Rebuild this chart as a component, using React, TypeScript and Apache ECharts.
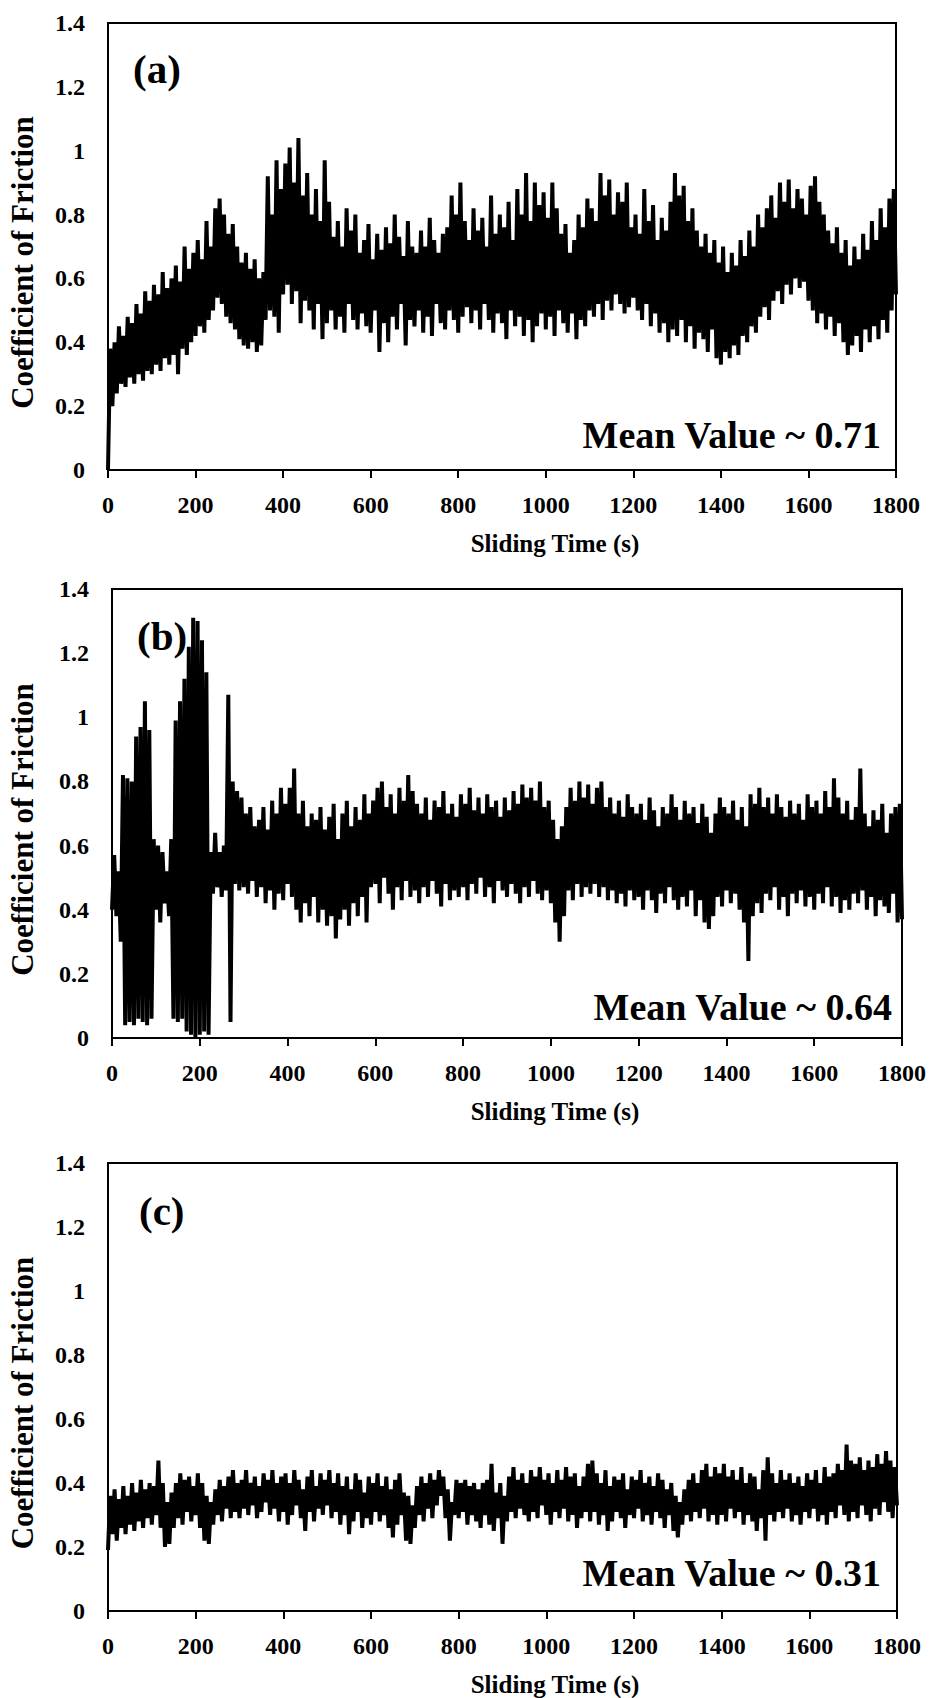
import React, { useEffect, useRef } from "react";
import * as echarts from "echarts";

// ---- data (coefficient of friction vs sliding time) ----
// Each panel: "low" samples at t = 0,10,20,...,1800 s and "high" samples at t = 5,15,...,1795 s
const SAMPLE_STEP = 10;
const HALF_STEP = 5;

const lowA = [
  0.00, 0.20, 0.24, 0.27, 0.26, 0.29, 0.27, 0.30, 0.28, 0.31,
  0.30, 0.33, 0.31, 0.35, 0.33, 0.36, 0.30, 0.38, 0.36, 0.40,
  0.42, 0.45, 0.43, 0.47, 0.50, 0.54, 0.52, 0.48, 0.46, 0.44,
  0.41, 0.39, 0.38, 0.40, 0.37, 0.39, 0.47, 0.50, 0.48, 0.43,
  0.55, 0.58, 0.52, 0.56, 0.46, 0.53, 0.50, 0.44, 0.52, 0.41,
  0.46, 0.50, 0.44, 0.48, 0.43, 0.52, 0.47, 0.44, 0.49, 0.45,
  0.43, 0.50, 0.37, 0.46, 0.40, 0.48, 0.44, 0.52, 0.39, 0.47,
  0.45, 0.50, 0.43, 0.48, 0.42, 0.52, 0.46, 0.44, 0.50, 0.47,
  0.43, 0.48, 0.51, 0.46, 0.50, 0.44, 0.52, 0.47, 0.43, 0.49,
  0.46, 0.41, 0.50, 0.45, 0.48, 0.42, 0.47, 0.40, 0.45, 0.49,
  0.44, 0.48, 0.42, 0.50, 0.46, 0.43, 0.49, 0.41, 0.47, 0.45,
  0.50, 0.48, 0.52, 0.47, 0.53, 0.50, 0.55, 0.52, 0.49, 0.51,
  0.54, 0.50, 0.47, 0.52, 0.45, 0.49, 0.43, 0.46, 0.40, 0.44,
  0.42, 0.47, 0.40, 0.45, 0.38, 0.43, 0.41, 0.37, 0.44, 0.35,
  0.33, 0.37, 0.35, 0.39, 0.36, 0.42, 0.40, 0.45, 0.43, 0.48,
  0.51, 0.47, 0.53, 0.56, 0.52, 0.58, 0.55, 0.60, 0.57, 0.59,
  0.53, 0.50, 0.46, 0.49, 0.44, 0.48, 0.42, 0.46, 0.40, 0.36,
  0.39, 0.42, 0.37, 0.44, 0.40, 0.45, 0.41, 0.47, 0.43, 0.50,
  0.55,
];
const highA = [
  0.38, 0.40, 0.45, 0.42, 0.48, 0.46, 0.52, 0.49, 0.56, 0.53,
  0.58, 0.55, 0.62, 0.57, 0.60, 0.64, 0.59, 0.70, 0.63, 0.68,
  0.72, 0.66, 0.78, 0.70, 0.82, 0.85, 0.80, 0.74, 0.77, 0.70,
  0.65, 0.68, 0.63, 0.66, 0.60, 0.62, 0.92, 0.80, 0.97, 0.88,
  0.96, 1.01, 0.90, 1.04, 0.86, 0.93, 0.80, 0.88, 0.78, 0.97,
  0.84, 0.73, 0.78, 0.70, 0.82, 0.75, 0.80, 0.68, 0.72, 0.77,
  0.66, 0.74, 0.69, 0.76, 0.71, 0.80, 0.73, 0.67, 0.78, 0.70,
  0.68, 0.75, 0.70, 0.79, 0.72, 0.68, 0.74, 0.76, 0.86, 0.80,
  0.90, 0.78, 0.72, 0.82, 0.75, 0.79, 0.70, 0.86, 0.74, 0.80,
  0.76, 0.84, 0.72, 0.88, 0.80, 0.93, 0.78, 0.90, 0.83, 0.87,
  0.79, 0.90, 0.82, 0.74, 0.77, 0.68, 0.72, 0.80, 0.76, 0.85,
  0.82, 0.78, 0.93, 0.86, 0.91, 0.80, 0.87, 0.84, 0.90, 0.76,
  0.80, 0.74, 0.88, 0.78, 0.83, 0.72, 0.79, 0.75, 0.84, 0.93,
  0.86, 0.89, 0.78, 0.82, 0.75, 0.70, 0.74, 0.68, 0.72, 0.65,
  0.70, 0.62, 0.68, 0.64, 0.72, 0.67, 0.75, 0.70, 0.80, 0.76,
  0.82, 0.86, 0.79, 0.90, 0.84, 0.91, 0.82, 0.88, 0.85, 0.80,
  0.89, 0.92, 0.84, 0.80, 0.75, 0.71, 0.76, 0.68, 0.72, 0.64,
  0.70, 0.66, 0.74, 0.69, 0.78, 0.72, 0.82, 0.76, 0.85, 0.88,
];

const lowB = [
  0.40, 0.38, 0.30, 0.04, 0.05, 0.04, 0.06, 0.05, 0.04, 0.06,
  0.40, 0.36, 0.42, 0.38, 0.06, 0.05, 0.06, 0.02, 0.01, 0.00,
  0.01, 0.02, 0.01, 0.45, 0.47, 0.44, 0.46, 0.05, 0.48, 0.46,
  0.47, 0.45, 0.49, 0.44, 0.47, 0.42, 0.46, 0.40, 0.45, 0.43,
  0.48, 0.44, 0.40, 0.36, 0.42, 0.38, 0.44, 0.36, 0.40, 0.35,
  0.38, 0.31, 0.37, 0.40, 0.35, 0.42, 0.38, 0.44, 0.36, 0.47,
  0.48, 0.42, 0.50, 0.45, 0.40, 0.47, 0.43, 0.49, 0.44, 0.46,
  0.42, 0.47, 0.44, 0.49, 0.45, 0.41, 0.48, 0.43, 0.46, 0.44,
  0.47, 0.43, 0.48, 0.45, 0.50, 0.44, 0.47, 0.42, 0.49, 0.46,
  0.44, 0.48, 0.45, 0.42, 0.47, 0.44, 0.49, 0.45, 0.43, 0.46,
  0.42, 0.36, 0.30, 0.38, 0.46, 0.43, 0.48, 0.44, 0.47, 0.45,
  0.48, 0.44, 0.47, 0.43, 0.46, 0.42, 0.45, 0.41, 0.46, 0.43,
  0.44, 0.40, 0.46, 0.43, 0.39, 0.45, 0.42, 0.47, 0.43, 0.40,
  0.44, 0.41, 0.46, 0.38, 0.43, 0.36, 0.34, 0.38, 0.44, 0.41,
  0.46, 0.42, 0.45, 0.40, 0.36, 0.24, 0.38, 0.42, 0.39, 0.45,
  0.43, 0.47, 0.40, 0.44, 0.38, 0.45, 0.42, 0.46, 0.41, 0.44,
  0.40, 0.45, 0.42, 0.47, 0.41, 0.44, 0.39, 0.43, 0.40, 0.45,
  0.42, 0.46, 0.40, 0.44, 0.38, 0.43, 0.41, 0.39, 0.45, 0.36,
  0.37,
];
const highB = [
  0.57, 0.52, 0.82, 0.81, 0.80, 0.94, 0.97, 1.05, 0.96, 0.62,
  0.60, 0.58, 0.52, 0.62, 0.99, 1.05, 1.12, 1.22, 1.31, 1.30,
  1.24, 1.14, 0.58, 0.64, 0.58, 0.60, 1.07, 0.80, 0.77, 0.75,
  0.70, 0.72, 0.66, 0.68, 0.72, 0.65, 0.74, 0.70, 0.78, 0.73,
  0.78, 0.84, 0.70, 0.74, 0.66, 0.70, 0.68, 0.72, 0.65, 0.69,
  0.73, 0.62, 0.70, 0.74, 0.66, 0.72, 0.68, 0.76, 0.70, 0.74,
  0.78, 0.80, 0.72, 0.76, 0.70, 0.78, 0.74, 0.82, 0.77, 0.73,
  0.70, 0.75, 0.68, 0.74, 0.72, 0.77, 0.70, 0.73, 0.69, 0.76,
  0.73, 0.78, 0.71, 0.75, 0.70, 0.76, 0.72, 0.74, 0.69, 0.75,
  0.71, 0.77, 0.73, 0.79, 0.75, 0.78, 0.74, 0.80, 0.72, 0.74,
  0.68, 0.62, 0.66, 0.72, 0.78, 0.74, 0.80, 0.75, 0.79, 0.73,
  0.78, 0.80, 0.72, 0.75, 0.70, 0.74, 0.69, 0.76, 0.72, 0.70,
  0.73, 0.68, 0.75, 0.71, 0.66, 0.72, 0.70, 0.76, 0.72, 0.68,
  0.74, 0.70, 0.72, 0.67, 0.73, 0.69, 0.64, 0.70, 0.75, 0.72,
  0.70, 0.74, 0.68, 0.72, 0.66, 0.76, 0.73, 0.78, 0.72, 0.75,
  0.70, 0.76, 0.72, 0.69, 0.74, 0.70, 0.73, 0.68, 0.76, 0.72,
  0.74, 0.70, 0.77, 0.72, 0.81, 0.75, 0.70, 0.74, 0.68, 0.72,
  0.84, 0.70, 0.66, 0.71, 0.68, 0.73, 0.64, 0.70, 0.72, 0.73,
];

const lowC = [
  0.19, 0.24, 0.22, 0.26, 0.24, 0.27, 0.25, 0.28, 0.26, 0.29,
  0.27, 0.30, 0.26, 0.20, 0.21, 0.26, 0.29, 0.27, 0.31, 0.28,
  0.30, 0.26, 0.22, 0.21, 0.27, 0.30, 0.28, 0.32, 0.29, 0.31,
  0.29, 0.32, 0.30, 0.33, 0.29, 0.31, 0.34, 0.30, 0.32, 0.28,
  0.31, 0.27, 0.30, 0.33, 0.29, 0.25, 0.31, 0.28, 0.32, 0.30,
  0.33, 0.29, 0.31, 0.27, 0.30, 0.24, 0.28, 0.31, 0.26, 0.29,
  0.27, 0.31, 0.28, 0.30, 0.26, 0.23, 0.27, 0.30, 0.22, 0.21,
  0.26, 0.30, 0.28, 0.32, 0.29, 0.33, 0.36, 0.29, 0.22, 0.30,
  0.29, 0.31, 0.27, 0.30, 0.28, 0.26, 0.30, 0.27, 0.25, 0.29,
  0.21, 0.28, 0.31, 0.29, 0.32, 0.30, 0.28, 0.31, 0.29, 0.33,
  0.30, 0.27, 0.31, 0.29, 0.32, 0.28, 0.30, 0.26, 0.29, 0.31,
  0.28, 0.31, 0.27, 0.30, 0.25, 0.28, 0.31, 0.29, 0.26, 0.30,
  0.29, 0.32, 0.28, 0.30, 0.27, 0.31, 0.29, 0.26, 0.30, 0.25,
  0.23, 0.27, 0.30, 0.28, 0.31, 0.29, 0.32, 0.28, 0.30, 0.27,
  0.30, 0.28, 0.32, 0.29, 0.31, 0.27, 0.30, 0.28, 0.25, 0.29,
  0.22, 0.30, 0.28, 0.31, 0.29, 0.32, 0.28, 0.30, 0.27, 0.31,
  0.29, 0.32, 0.28, 0.30, 0.27, 0.31, 0.29, 0.33, 0.30, 0.28,
  0.31, 0.29, 0.33, 0.30, 0.28, 0.32, 0.30, 0.34, 0.31, 0.29,
  0.33,
];
const highC = [
  0.36, 0.38, 0.35, 0.39, 0.36, 0.40, 0.37, 0.41, 0.38, 0.40,
  0.39, 0.47, 0.40, 0.34, 0.37, 0.40, 0.43, 0.41, 0.42, 0.39,
  0.43, 0.40, 0.36, 0.34, 0.38, 0.41, 0.39, 0.42, 0.44, 0.40,
  0.41, 0.44, 0.40, 0.42, 0.39, 0.43, 0.41, 0.44, 0.40, 0.42,
  0.43, 0.40, 0.44, 0.41, 0.38, 0.42, 0.44, 0.39, 0.43, 0.41,
  0.44, 0.40, 0.43, 0.39, 0.42, 0.38, 0.43, 0.41, 0.37, 0.42,
  0.40, 0.43, 0.39, 0.42, 0.38, 0.41, 0.43, 0.37, 0.36, 0.33,
  0.39, 0.42, 0.40, 0.43, 0.41, 0.44, 0.42, 0.38, 0.34, 0.41,
  0.40, 0.41, 0.39, 0.40, 0.38, 0.40, 0.41, 0.46, 0.37, 0.40,
  0.36, 0.42, 0.45, 0.41, 0.43, 0.40, 0.44, 0.42, 0.45, 0.41,
  0.43, 0.40, 0.44, 0.41, 0.45, 0.42, 0.43, 0.39, 0.42, 0.46,
  0.47, 0.43, 0.40, 0.44, 0.39, 0.42, 0.41, 0.43, 0.38, 0.42,
  0.41, 0.44, 0.40, 0.42, 0.39, 0.43, 0.41, 0.38, 0.40, 0.36,
  0.34, 0.38, 0.41, 0.43, 0.40, 0.44, 0.46, 0.42, 0.45, 0.43,
  0.46, 0.42, 0.44, 0.41, 0.45, 0.40, 0.43, 0.42, 0.38, 0.44,
  0.48, 0.43, 0.40, 0.44, 0.41, 0.43, 0.40, 0.42, 0.39, 0.43,
  0.41, 0.44, 0.40, 0.45, 0.42, 0.43, 0.46, 0.44, 0.52, 0.47,
  0.46, 0.48, 0.44, 0.47, 0.45, 0.49, 0.46, 0.50, 0.47, 0.45,
];

const panelLabels = ["(a)", "(b)", "(c)"];
const meanLabels = ["Mean Value ~ 0.71", "Mean Value ~ 0.64", "Mean Value ~ 0.31"];
const xAxisTitle = "Sliding Time (s)";
const yAxisTitle = "Coefficient of Friction";
const X_MIN = 0;
const X_MAX = 1800;
const X_INTERVAL = 200;
const Y_MIN = 0;
const Y_MAX = 1.4;
const Y_INTERVAL = 0.2;

// ---- layout ----
const FONT = "'Liberation Serif', 'Times New Roman', serif";
const grids = [
  { left: 108, top: 23, width: 788, height: 447 },
  { left: 112, top: 589, width: 790, height: 449 },
  { left: 108, top: 1163, width: 789, height: 448 },
];
const panelLabelPos = [
  { x: 133, y: 69 },
  { x: 137, y: 636 },
  { x: 139, y: 1211 },
];
const meanPos = [
  { x: 881, y: 435 },
  { x: 892, y: 1007 },
  { x: 881, y: 1573 },
];

function buildSeries(lo: number[], hi: number[]) {
  const pts: number[][] = [];
  lo.forEach((v, i) => {
    pts.push([X_MIN + i * SAMPLE_STEP, v]);
    if (i < hi.length) pts.push([X_MIN + i * SAMPLE_STEP + HALF_STEP, hi[i]]);
  });
  return pts;
}

const plainNumber = (v: number) => String(Math.round(v * 1000) / 1000);

export default function App() {
  const ref = useRef<HTMLDivElement>(null);
  useEffect(() => {
    if (!ref.current) return;
    const chart = echarts.init(ref.current, undefined, { renderer: "svg" });
    const seriesData = [buildSeries(lowA, highA), buildSeries(lowB, highB), buildSeries(lowC, highC)];
    const graphic: any[] = [];
    grids.forEach((g, i) => {
      graphic.push({
        type: "text",
        x: panelLabelPos[i].x,
        y: panelLabelPos[i].y,
        style: {
          text: panelLabels[i],
          fill: "#000",
          font: `bold 41px ${FONT}`,
          align: "left",
          verticalAlign: "middle",
          textAlign: "left",
          textVerticalAlign: "middle",
        },
      });
      graphic.push({
        type: "text",
        x: meanPos[i].x,
        y: meanPos[i].y,
        style: {
          text: meanLabels[i],
          fill: "#000",
          font: `bold 38px ${FONT}`,
          align: "right",
          verticalAlign: "middle",
          textAlign: "right",
          textVerticalAlign: "middle",
        },
      });
      graphic.push({
        type: "text",
        x: 555,
        y: g.top + g.height + 73,
        style: {
          text: xAxisTitle,
          fill: "#000",
          font: `bold 25px ${FONT}`,
          align: "center",
          verticalAlign: "middle",
          textAlign: "center",
          textVerticalAlign: "middle",
        },
      });
      graphic.push({
        type: "text",
        x: 22,
        y: g.top + g.height / 2 + 16,
        rotation: Math.PI / 2,
        style: {
          text: yAxisTitle,
          fill: "#000",
          font: `bold 31px ${FONT}`,
          align: "center",
          verticalAlign: "middle",
          textAlign: "center",
          textVerticalAlign: "middle",
        },
      });
    });

    chart.setOption({
      animation: false,
      backgroundColor: "#fff",
      grid: grids.map((g) => ({
        ...g,
        show: true,
        borderColor: "#000",
        borderWidth: 2,
        backgroundColor: "transparent",
      })),
      xAxis: grids.map((_, i) => ({
        type: "value",
        gridIndex: i,
        min: X_MIN,
        max: X_MAX,
        interval: X_INTERVAL,
        axisLine: { show: true, onZero: false, lineStyle: { color: "#000", width: 2 } },
        axisTick: { show: true, inside: false, length: 8, lineStyle: { color: "#000", width: 2 } },
        axisLabel: {
          color: "#000",
          fontSize: 24,
          fontWeight: "bold",
          fontFamily: FONT,
          margin: 23,
          formatter: plainNumber,
        },
        splitLine: { show: false },
      })),
      yAxis: grids.map((_, i) => ({
        type: "value",
        gridIndex: i,
        min: Y_MIN,
        max: Y_MAX,
        interval: Y_INTERVAL,
        axisLine: { show: true, onZero: false, lineStyle: { color: "#000", width: 2 } },
        axisTick: { show: false },
        axisLabel: {
          color: "#000",
          fontSize: 24,
          fontWeight: "bold",
          fontFamily: FONT,
          margin: 23,
          formatter: plainNumber,
        },
        splitLine: { show: false },
      })),
      series: seriesData.map((d, i) => ({
        type: "line",
        xAxisIndex: i,
        yAxisIndex: i,
        data: d,
        showSymbol: false,
        symbol: "none",
        lineStyle: { color: "#000", width: 4, join: "bevel" },
        itemStyle: { color: "#000" },
      })),
      graphic,
    });
    return () => chart.dispose();
  }, []);
  return (
    <div
      ref={ref}
      style={{ position: "absolute", left: 0, top: 0, width: 930, height: 1698, background: "#fff" }}
    />
  );
}
